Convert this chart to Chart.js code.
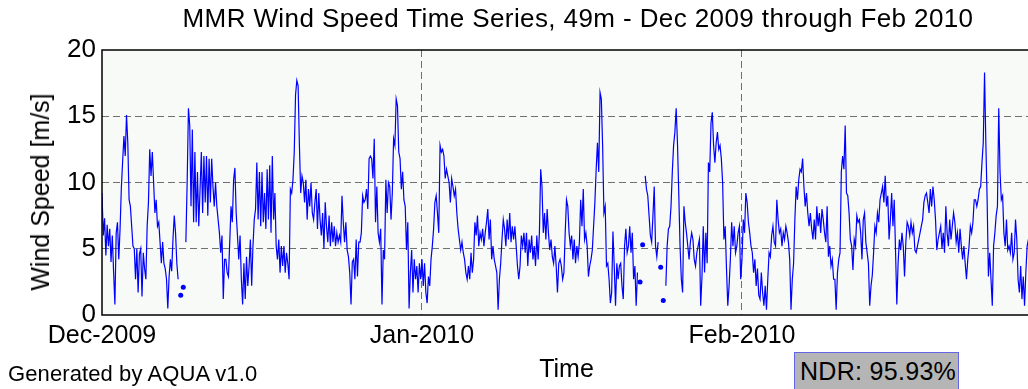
<!DOCTYPE html>
<html>
<head>
<meta charset="utf-8">
<title>MMR Wind Speed Time Series</title>
<script src="https://cdn.jsdelivr.net/npm/chart.js@4.4.1/dist/chart.umd.min.js"></script>
<style>
    html, body { margin: 0; padding: 0; background: #fff; overflow: hidden; }
    #wrap {
        position: relative; width: 1028px; height: 389px; overflow: hidden;
        font-family: 'Liberation Sans', Arial, sans-serif; color: #000;
    }
    #windChart { position: absolute; left: 0; top: 0; }
    .chart-title {
        position: absolute; top: 5px; left: 578px; transform: translateX(-50%);
        white-space: nowrap; font-size: 26px; line-height: 26px; letter-spacing: 0.4px;
    }
    .y-title {
        position: absolute; left: 40px; top: 192px; transform: translate(-50%, -50%) rotate(-90deg);
        white-space: nowrap; font-size: 25px; line-height: 30px;
    }
    .credit {
        position: absolute; left: 8px; top: 363px;
        white-space: nowrap; font-size: 22px; line-height: 22px; letter-spacing: 0.1px;
    }
    .ndr {
        position: absolute; left: 794px; top: 352px; width: 165px; height: 40px;
        box-sizing: border-box; background: #b5b5b5; border: 1px solid #6464e6;
        padding-left: 5px; white-space: nowrap; font-size: 25px; line-height: 36px; letter-spacing: 0.3px;
    }
</style>
</head>
<body>
<div id="wrap">
    <canvas id="windChart" width="1036" height="389"></canvas>
    <div class="chart-title">MMR Wind Speed Time Series, 49m - Dec 2009 through Feb 2010</div>
    <div class="y-title">Wind Speed [m/s]</div>
    <div class="credit">Generated by AQUA v1.0</div>
    <div class="ndr">NDR: 95.93%</div>
</div>
<script>
// x axis: days since 1 Dec 2009
const tickDays = [0, 31, 62];
const tickLabels = ['Dec-2009', 'Jan-2010', 'Feb-2010'];
const yTicks = [0, 5, 10, 15, 20];
const stepHours = 3;

// 49m wind speed [m/s], 3-hourly, one row per day (null = no data)
const windSpeed = [
    9.2, 6.0, 7.3, 4.5, 6.8, 5.2, 6.5, 4.0,
    6.0, 3.2, 0.8, 6.2, 7.0, 4.2, 6.5, 9.6,
    11.6, 13.5, 12.0, 15.1, 13.0, 8.7, 8.2, 6.7,
    5.2, 5.0, 2.7, 5.0, 1.7, 4.6, 5.0, 1.4,
    4.7, 3.5, 2.7, 6.7, 8.5, 12.5, 10.5, 12.3,
    10.0, 7.7, 8.7, 6.7, 7.0, 5.5, 3.9, 5.5,
    3.9, 3.5, 2.7, 0.5, 2.9, 4.2, 3.3, 5.7,
    7.5, 6.2, 3.9, 2.7, null, 1.5, null, 2.1,
    null, 5.5, 10.0, 15.6, 14.3, 8.2, 14.0, 7.0,
    12.3, 7.0, 10.8, 6.7, 9.5, 12.3, 7.7, 12.0,
    8.5, 12.0, 7.5, 11.8, 8.5, 11.8, 9.7, 8.2,
    10.0, 8.2, 7.2, 6.2, 4.7, 6.0, 1.2, 4.2,
    4.2, 3.2, 2.9, 5.5, 8.2, 7.0, 10.2, 11.1,
    7.7, 6.0, 4.2, 6.0, 2.7, 0.8, 3.9, 1.2,
    4.4, 2.2, 3.7, 5.7, 2.2, 5.2, 7.2, 8.0,
    11.5, 7.2, 10.8, 6.7, 10.8, 7.0, 9.2, 6.5,
    11.0, 7.2, 11.3, 6.2, 12.0, 7.2, 9.2, 5.2,
    4.2, 5.7, 3.2, 5.2, 3.7, 5.2, 3.2, 4.7,
    3.9, 2.7, 9.5, 9.2, 10.2, 12.3, 16.6, 17.7,
    17.3, 12.8, 9.2, 10.5, 10.0, 8.5, 10.2, 7.2,
    9.5, 8.2, 10.0, 7.7, 7.2, 8.5, 9.5, 6.5,
    9.2, 7.2, 6.0, 7.7, 5.0, 8.5, 6.7, 5.5,
    7.5, 5.2, 7.0, 5.5, 6.7, 5.2, 6.2, 5.5,
    6.0, 5.5, 9.0, 7.0, 5.5, 7.0, 4.9, 4.4,
    3.2, 0.8, 4.0, 4.2, 2.7, 5.7, 2.9, 5.5,
    5.5, 6.2, 9.0, 8.5, 8.7, 9.5, 8.0, 11.8,
    12.0, 11.8, 10.3, 13.3, 7.0, 9.7, 6.2, 5.5,
    6.5, 0.8, 4.9, 4.2, 10.2, 7.7, 10.0, 9.7,
    7.2, 9.2, 13.3, 12.8, 16.3, 15.8, 12.3, 11.8,
    9.5, 10.8, 8.7, 8.2, 4.9, 7.0, 0.5, 3.2,
    4.9, 1.7, 4.2, 2.7, 3.7, 1.7, 3.9, 2.7,
    4.2, 2.2, 3.9, 1.7, 0.9, 2.9, 2.2, 4.2,
    5.2, 6.5, 8.5, 9.0, 7.7, 6.2, 12.8, 12.3,
    12.5, 12.0, 10.3, 11.0, 10.5, 10.0, 8.5, 10.3,
    9.7, 9.0, 9.5, 7.7, 6.5, 5.7, 4.9, 5.5,
    4.7, 4.2, 3.2, 2.7, 3.7, 2.7, 4.7, 3.2,
    4.2, 7.0, 6.0, 7.5, 5.2, 6.2, 5.7, 6.5,
    5.2, 6.2, 7.0, 8.0, 5.7, 7.2, 4.2, 5.2,
    4.2, 3.7, 3.2, 0.4, 2.7, 3.9, 5.7, 7.2,
    6.5, 5.2, 7.2, 5.7, 7.7, 5.5, 6.7, 5.7,
    6.7, 5.2, 3.7, 2.7, 3.7, 6.0, 5.2, 6.2,
    4.7, 6.2, 3.7, 5.7, 4.7, 6.0, 4.2, 5.2,
    3.7, 6.0, 4.2, 6.2, 11.0, 9.7, 6.2, 7.7,
    5.7, 8.0, 6.2, 4.9, 5.7, 4.4, 3.9, 5.2,
    3.7, 1.7, 3.9, 4.2, 3.7, 2.7, 3.2, 6.2,
    8.7, 8.2, 6.2, 5.2, 6.0, 4.2, 5.7, 3.9,
    5.2, 4.4, 5.5, 8.7, 6.7, 9.5, 5.7, 6.2,
    5.2, 2.9, 3.7, 4.2, 4.9, 6.7, 8.5, 11.0,
    13.0, 10.8, 16.8, 16.3, 12.8, 7.7, 8.2, 3.7,
    3.9, 2.7, 0.9, 1.7, 6.3, 3.7, 0.7, 3.9,
    2.7, 3.7, 3.9, 2.2, 1.2, 5.2, 6.5, 4.7,
    5.2, 6.7, 4.7, 6.2, 2.7, 3.7, 0.7, 3.2,
    null, 2.5, null, 5.3, null, 10.5, 9.5, 9.0,
    7.5, 6.0, 5.5, 7.5, 9.7, 5.2, 4.4, 5.5,
    null, 3.6, null, 1.1, null, 2.2, 5.2, 6.5,
    6.7, 8.2, 10.8, 12.8, 13.8, 15.6, 13.0, 9.2,
    5.2, 2.7, 1.7, 8.2, 7.0, 6.2, 5.2, 4.2,
    5.5, 6.2, 5.7, 4.2, 3.7, 4.7, 5.2, 5.7,
    0.7, 2.9, 6.7, 3.2, 6.2, 3.9, 11.5, 10.8,
    14.5, 15.3, 12.8, 11.5, 13.0, 13.8, 12.5, 12.8,
    11.8, 10.0, 5.7, 6.7, 3.5, 0.7, 2.2, 4.2,
    7.0, 5.2, 6.7, 4.7, 5.2, 6.2, 6.7, 2.7,
    4.2, 7.2, 6.2, 9.2, 8.5, 7.0, 6.2, 5.2,
    4.7, 3.2, 4.2, 2.2, 3.5, 1.5, 1.2, 3.2,
    1.7, 0.7, 2.2, 0.4, 2.7, 4.7, 4.4, 6.0,
    6.7, 5.5, 5.2, 8.7, 7.2, 6.2, 6.5, 5.2,
    6.2, 5.7, 6.7, 6.2, 5.5, 4.2, 0.4, 2.7,
    3.9, 7.2, 9.7, 8.7, 10.2, 11.0, 10.8, 11.8,
    9.7, 8.2, 9.2, 7.7, 6.7, 7.7, 6.5, 5.7,
    7.2, 5.7, 8.2, 6.7, 7.7, 6.2, 8.0, 7.2,
    6.2, 5.5, 8.2, 4.4, 5.2, 3.7, 4.2, 2.7,
    2.7, 0.4, 3.2, 4.2, 4.7, 10.8, 12.0, 11.0,
    14.3, 9.2, 9.0, 7.7, 5.7, 5.2, 3.4, 5.7,
    5.2, 7.5, 7.0, 7.2, 6.2, 4.2, 7.2, 7.7,
    5.5, 4.7, 3.9, 0.7, 2.2, 3.0, 4.7, 6.7,
    6.2, 7.7, 7.0, 8.7, 9.2, 9.7, 8.5, 10.5,
    8.2, 9.0, 5.7, 7.2, 9.2, 6.7, 8.7, 4.9,
    0.8, 3.9, 5.7, 4.9, 6.2, 5.2, 2.9, 5.5,
    7.0, 6.7, 6.0, 7.0, 6.2, 6.7, 4.9, 4.7,
    5.2, 5.7, 6.2, 6.7, 7.2, 8.5, 9.0, 9.2,
    8.5, 7.7, 9.5, 8.2, 9.7, 8.7, 7.2, 4.9,
    5.7, 6.2, 6.7, 5.0, 6.2, 4.7, 8.2, 6.2,
    5.2, 7.2, 5.7, 6.7, 7.7, 7.0, 5.5, 6.2,
    4.7, 6.5, 5.2, 4.2, 5.2, 3.9, 2.7, 4.2,
    5.2, 6.7, 6.2, 7.0, 8.7, 8.7, 8.2, 8.7,
    9.5, 9.7, 11.5, 13.0, 18.3, 13.0, 8.7, 2.9,
    4.7, 2.7, 0.7, 5.2, 6.2, 7.5, 8.2, 15.6,
    10.8, 8.7, 9.0, 6.2, 5.2, 7.2, 4.9, 5.2,
    4.7, 6.2, 4.2, 4.7, 7.2, 5.7, 2.7, 1.7,
    3.7, 1.2, 2.9, 0.7, 3.2, 5.2, 5.7, 4.5
];

const axisFont = { family: "'Liberation Sans', Arial, sans-serif", size: 25 };
const gridGray = '#707070';

// light plot background + black axes box like the original figure
const frameBox = {
    id: 'frameBox',
    beforeDraw(chart) {
        const { ctx, chartArea: a } = chart;
        ctx.save();
        ctx.fillStyle = '#f7faf7';
        ctx.fillRect(a.left, a.top, a.right - a.left, a.bottom - a.top);
        ctx.restore();
    },
    afterDatasetsDraw(chart) {
        const { ctx, chartArea: a } = chart;
        ctx.save();
        ctx.strokeStyle = '#000';
        ctx.lineWidth = 1.5;
        ctx.strokeRect(a.left, a.top, a.right - a.left, a.bottom - a.top);
        ctx.restore();
    }
};

const points = windSpeed.map((v, i) => ({ x: i * stepHours / 24, y: v }));

const ctx = document.getElementById('windChart').getContext('2d');
const chart = new Chart(ctx, {
    type: 'line',
    data: {
        datasets: [{
            label: 'Wind Speed 49m',
            data: points,
            borderColor: '#0000ff',
            backgroundColor: '#0000ff',
            borderWidth: 1.2,
            tension: 0,
            spanGaps: false,
            // only lone samples between gaps get a marker
            pointRadius: (c) => {
                const i = c.dataIndex;
                const isolated = windSpeed[i] != null && windSpeed[i - 1] == null && windSpeed[i + 1] == null;
                return isolated ? 2.5 : 0;
            },
            pointBorderWidth: 0,
            pointHoverRadius: 0
        }]
    },
    options: {
        responsive: false,
        animation: false,
        layout: {
            padding: { top: 50, right: 5, left: 0, bottom: 0 }
        },
        plugins: {
            legend: { display: false },
            tooltip: { enabled: false }
        },
        scales: {
            x: {
                type: 'linear',
                min: 0,
                max: 90,
                afterBuildTicks: (scale) => {
                    scale.ticks = tickDays.map(v => ({ value: v }));
                },
                afterFit: (scale) => {
                    scale.height = 74;
                },
                ticks: {
                    autoSkip: false,
                    maxRotation: 0,
                    padding: 6,
                    color: '#000',
                    font: axisFont,
                    callback: (value) => tickLabels[tickDays.indexOf(value)]
                },
                grid: {
                    drawTicks: false,
                    color: (c) => (c.tick && c.tick.value === 0) ? 'rgba(0,0,0,0)' : gridGray,
                    lineWidth: 1
                },
                border: { display: false, dash: [7, 4] },
                title: {
                    display: true,
                    text: 'Time',
                    color: '#000',
                    font: axisFont,
                    padding: { top: 0, bottom: 4 }
                }
            },
            y: {
                min: 0,
                max: 20,
                afterBuildTicks: (scale) => {
                    scale.ticks = yTicks.map(v => ({ value: v }));
                },
                afterFit: (scale) => {
                    scale.width = 102;
                },
                ticks: {
                    padding: 6,
                    color: '#000',
                    font: { family: axisFont.family, size: 26 }
                },
                grid: {
                    drawTicks: false,
                    color: (c) => (c.tick && (c.tick.value === 0 || c.tick.value === 20)) ? 'rgba(0,0,0,0)' : gridGray,
                    lineWidth: 1
                },
                border: { display: false, dash: [7, 4] }
            }
        }
    },
    plugins: [frameBox]
});
</script>
</body>
</html>
